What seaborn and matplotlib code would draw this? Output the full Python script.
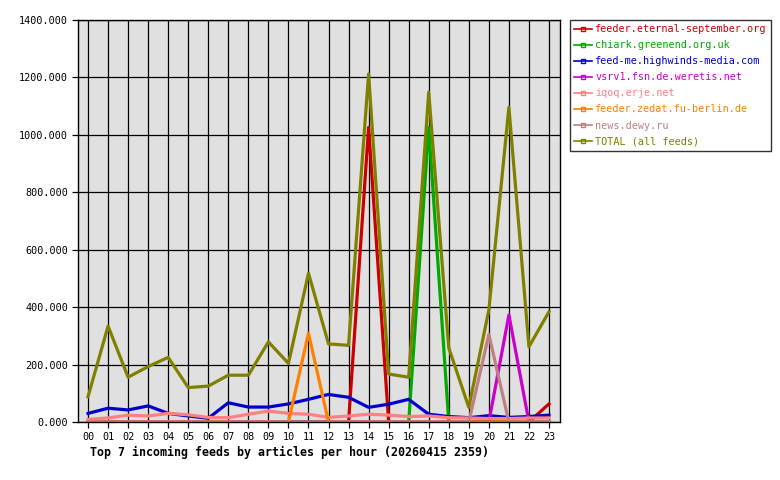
import pandas as pd
import numpy as np
import matplotlib.pyplot as plt
import seaborn as sns
from matplotlib.lines import Line2D

# Data (articles per hour)
hours = list(range(24))
hour_labels = ["%02d" % h for h in hours]

feeds = [
    "feeder.eternal-september.org",
    "chiark.greenend.org.uk",
    "feed-me.highwinds-media.com",
    "vsrv1.fsn.de.weretis.net",
    "iqoq.erje.net",
    "feeder.zedat.fu-berlin.de",
    "news.dewy.ru",
    "TOTAL (all feeds)",
]
colors = ["#cc0000", "#00aa00", "#0000cc", "#cc00cc",
          "#ff8080", "#ff8000", "#c08080", "#808000"]

eternal = [0, 0, 0, 0, 0, 0, 0, 0, 0, 0, 0, 0,
           0, 0, 1026, 0, 0, 0, 0, 0, 0, 0, 0, 63]
chiark = [0, 0, 0, 0, 0, 0, 0, 0, 0, 0, 0, 0,
          0, 0, 0, 0, 0, 1026, 0, 0, 0, 0, 0, 0]
highwinds = [30, 48, 42, 56, 30, 21, 13, 67, 52, 52, 63, 79,
             96, 86, 51, 62, 79, 27, 19, 15, 22, 16, 19, 24]
weretis = [0, 0, 0, 0, 0, 0, 0, 0, 0, 0, 0, 0,
           0, 0, 0, 0, 0, 0, 0, 0, 0, 373, 0, 0]
iqoq = [9, 14, 24, 21, 30, 25, 16, 15, 27, 38, 30, 27,
        16, 21, 27, 24, 19, 21, 15, 14, 12, 12, 14, 14]
zedat = [0, 0, 0, 0, 0, 0, 0, 0, 0, 0, 0, 309,
         0, 0, 0, 0, 0, 0, 0, 0, 0, 0, 0, 0]
dewy = [0, 0, 0, 0, 0, 0, 0, 0, 0, 0, 0, 0,
        0, 0, 0, 0, 0, 0, 0, 0, 305, 0, 0, 0]
total = [88, 334, 156, 193, 225, 120, 125, 163, 163, 279, 204, 518,
         272, 267, 1212, 167, 156, 1149, 258, 51, 390, 1096, 262, 384]

series = [eternal, chiark, highwinds, weretis, iqoq, zedat, dewy, total]

df = pd.concat([
    pd.DataFrame({"hour": hours, "articles": vals, "feed": name})
    for name, vals in zip(feeds, series)
], ignore_index=True)

mono = "DejaVu Sans Mono"

fig = plt.figure(figsize=(7.8, 4.8), dpi=100)
ax = fig.add_axes([78 / 780, 1 - 422 / 480, (560 - 78) / 780, (422 - 20) / 480])
ax.set_facecolor("#e0e0e0")

sns.lineplot(data=df, x="hour", y="articles", hue="feed", hue_order=feeds,
             palette=colors, linewidth=2.3, legend=False, ax=ax)

ax.set_xlim(-0.5, 23.55)
ax.set_ylim(0, 1400)
ax.set_xticks(hours)
ax.set_xticklabels(hour_labels)
ax.set_yticks(np.arange(0, 1401, 200))
ax.set_yticklabels(["%.3f" % v for v in np.arange(0, 1401, 200)])
ax.grid(True, color="black", linewidth=0.9)
ax.set_axisbelow(True)
ax.set_xlabel("")
ax.set_ylabel("")
for s in ax.spines.values():
    s.set_color("black")
    s.set_linewidth(1)
ax.tick_params(axis="both", length=4, width=0.9, color="black", pad=3)
for lab in ax.get_xticklabels() + ax.get_yticklabels():
    lab.set_family(mono)
    lab.set_fontsize(7.3)

# Legend with coloured text
handles = [Line2D([0], [0], color=c, linewidth=1.2, marker="s", markersize=2.5,
                  markerfacecolor="none", markeredgecolor=c) for c in colors]
leg = fig.legend(handles, feeds, loc="upper left",
                 bbox_to_anchor=(570 / 780, 1 - 20 / 480),
                 prop={"family": mono, "size": 7.3},
                 frameon=True, fancybox=False, edgecolor="black",
                 handlelength=1.8, handletextpad=0.3, labelspacing=0.6,
                 borderpad=0.4, borderaxespad=0)
leg.get_frame().set_linewidth(1)
for txt, c in zip(leg.get_texts(), colors):
    txt.set_color(c)

fig.text(90 / 780, 1 - 452 / 480,
         "Top 7 incoming feeds by articles per hour (20260415 2359)",
         family=mono, fontsize=8.4, fontweight="bold", va="center", ha="left")

plt.savefig("out.png", dpi=100, facecolor="white")
